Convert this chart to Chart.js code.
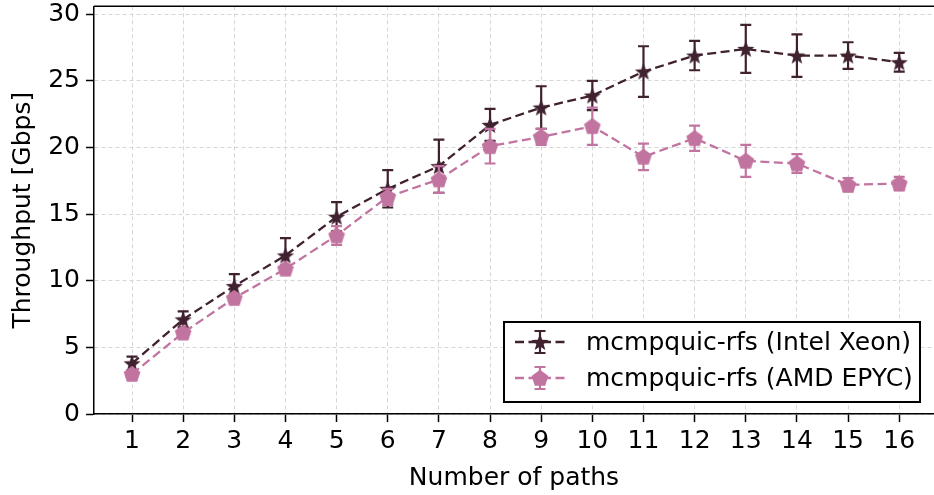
<!DOCTYPE html>
<html>
<head>
<meta charset="utf-8">
<script src="https://cdn.jsdelivr.net/npm/chart.js@4.4.0/dist/chart.umd.min.js"></script>
<style>
  html, body { margin: 0; padding: 0; background: #fff; }
</style>
</head>
<body>
<canvas id="myChart" width="934" height="495"></canvas>
<script>
// data
const paths = [1, 2, 3, 4, 5, 6, 7, 8, 9, 10, 11, 12, 13, 14, 15, 16];
const intelTput = [3.8, 7.1, 9.6, 11.9, 14.8, 16.9, 18.6, 21.7, 23.0, 23.9, 25.7, 26.9, 27.4, 26.9, 26.9, 26.4];
const intelErr  = [0.5, 0.6, 0.9, 1.3, 1.1, 1.4, 2.0, 1.2, 1.6, 1.1, 1.9, 1.1, 1.8, 1.6, 1.0, 0.7];
const amdTput   = [3.0, 6.1, 8.7, 10.9, 13.4, 16.3, 17.6, 20.1, 20.8, 21.6, 19.3, 20.7, 19.0, 18.8, 17.2, 17.3];
const amdErr    = [0.2, 0.3, 0.3, 0.3, 0.7, 0.6, 1.0, 1.3, 0.6, 1.4, 1.0, 0.95, 1.2, 0.7, 0.5, 0.5];
const yTicks = [0, 5, 10, 15, 20, 25, 30];
const seriesNames = ['mcmpquic-rfs (Intel Xeon)', 'mcmpquic-rfs (AMD EPYC)'];

const intelColor = '#40212f';
const amdColor = '#c274a0';
const FONT = "'DejaVu Sans', sans-serif";
const FSIZE = 25;

// filled star / pentagon markers like matplotlib '*' and 'p'
function polyPath(ctx, cx, cy, n, rOut, rIn) {
  ctx.beginPath();
  const step = Math.PI / n;
  let first = true;
  for (let i = 0; i < 2 * n; i++) {
    if (rIn == null && i % 2 === 1) continue;
    const r = (i % 2 === 0) ? rOut : rIn;
    const a = -Math.PI / 2 + i * step;
    const px = cx + r * Math.cos(a), py = cy + r * Math.sin(a);
    if (first) { ctx.moveTo(px, py); first = false; } else ctx.lineTo(px, py);
  }
  ctx.closePath();
}
function makeMarker(color, kind) {
  const c = document.createElement('canvas');
  c.width = 22; c.height = 22;
  const g = c.getContext('2d');
  g.fillStyle = color;
  if (kind === 'star') polyPath(g, 11, 11.8, 5, 9, 3.8);
  else polyPath(g, 11, 11.6, 5, 8.8, null);
  g.fill();
  return c;
}
const starImg = makeMarker(intelColor, 'star');
const pentImg = makeMarker(amdColor, 'pent');

function toXY(vals) {
  return vals.map((v, i) => ({ x: paths[i], y: v }));
}

function drawErr(ctx, x, yTop, yBot, color) {
  ctx.save();
  ctx.strokeStyle = color;
  ctx.lineWidth = 2.2;
  ctx.setLineDash([]);
  ctx.beginPath();
  ctx.moveTo(x, yTop); ctx.lineTo(x, yBot);
  ctx.moveTo(x - 5.5, yTop); ctx.lineTo(x + 5.5, yTop);
  ctx.moveTo(x - 5.5, yBot); ctx.lineTo(x + 5.5, yBot);
  ctx.stroke();
  ctx.restore();
}

// stretch the plot area to the right edge, like the cropped original figure
const stretchRight = {
  id: 'stretchRight',
  afterLayout(chart) {
    const xs = chart.scales.x;
    xs.right = chart.width;
    xs.width = xs.right - xs.left;
    xs.configure();
    chart.chartArea.right = chart.width;
    chart.chartArea.width = chart.chartArea.right - chart.chartArea.left;
  }
};

const errorBars = {
  id: 'errorBars',
  beforeDatasetDraw(chart, args) {
    const ds = chart.data.datasets[args.index];
    const xs = chart.scales.x, ys = chart.scales.y;
    const ctx = chart.ctx;
    ds.errors.forEach((e, i) => {
      const v = ds.data[i].y;
      drawErr(ctx, xs.getPixelForValue(paths[i]), ys.getPixelForValue(v + e), ys.getPixelForValue(v - e), ds.borderColor);
    });
  }
};

const frameAndLegend = {
  id: 'frameAndLegend',
  afterDraw(chart) {
    const ctx = chart.ctx;
    const a = chart.chartArea;
    ctx.save();
    // top spine
    ctx.strokeStyle = '#000';
    ctx.lineWidth = 1.5;
    ctx.beginPath();
    ctx.moveTo(a.left, a.top); ctx.lineTo(a.right, a.top);
    ctx.stroke();

    // legend box
    const bx = 504, by = 322, bw = 416, bh = 80;
    ctx.fillStyle = '#fff';
    ctx.fillRect(bx, by, bw, bh);
    ctx.lineWidth = 2;
    ctx.strokeStyle = '#000';
    ctx.strokeRect(bx, by, bw, bh);

    const rows = [
      { y: 342, color: intelColor, img: starImg, label: seriesNames[0] },
      { y: 378, color: amdColor, img: pentImg, label: seriesNames[1] }
    ];
    rows.forEach(r => {
      ctx.strokeStyle = r.color;
      ctx.lineWidth = 2.3;
      ctx.setLineDash([9, 4.5]);
      ctx.beginPath();
      ctx.moveTo(515, r.y); ctx.lineTo(565, r.y);
      ctx.stroke();
      ctx.setLineDash([]);
      drawErr(ctx, 540, r.y - 11, r.y + 11, r.color);
      ctx.drawImage(r.img, 540 - 11, r.y - 11);
      ctx.fillStyle = '#000';
      ctx.font = FSIZE + 'px ' + FONT;
      ctx.textBaseline = 'middle';
      ctx.textAlign = 'left';
      ctx.fillText(r.label, 586, r.y + 1);
    });
    ctx.restore();
  }
};

const ctx = document.getElementById('myChart').getContext('2d');
const myChart = new Chart(ctx, {
  type: 'line',
  data: {
    datasets: [
      {
        label: seriesNames[0],
        data: toXY(intelTput),
        errors: intelErr,
        borderColor: intelColor,
        backgroundColor: intelColor,
        borderWidth: 2.3,
        borderDash: [9, 4.5],
        pointStyle: starImg,
        order: 1
      },
      {
        label: seriesNames[1],
        data: toXY(amdTput),
        errors: amdErr,
        borderColor: amdColor,
        backgroundColor: amdColor,
        borderWidth: 2.3,
        borderDash: [9, 4.5],
        pointStyle: pentImg,
        order: 0
      }
    ]
  },
  options: {
    responsive: false,
    animation: false,
    layout: { padding: { top: 4, right: 0, left: 0, bottom: 0 } },
    plugins: {
      legend: { display: false },
      tooltip: { enabled: false }
    },
    scales: {
      x: {
        type: 'linear',
        min: 0.257,
        max: 16.68,
        afterBuildTicks: (s) => { s.ticks = paths.map(v => ({ value: v })); },
        afterFit: (s) => { s.height = 81; s.paddingLeft = 0; s.paddingRight = 0; },
        grid: { color: '#d6d6d6', lineWidth: 1, tickColor: '#000', tickLength: 8, tickWidth: 1.5 },
        border: { color: '#000', width: 1.5, dash: [4, 3] },
        ticks: { color: '#000', font: { family: FONT, size: FSIZE }, padding: 4, maxRotation: 0 },
        title: { display: true, text: 'Number of paths', color: '#000', font: { family: FONT, size: FSIZE }, padding: { top: 4, bottom: 2 } }
      },
      y: {
        min: 0,
        max: 30.6,
        afterBuildTicks: (s) => { s.ticks = yTicks.map(v => ({ value: v })); },
        afterFit: (s) => { s.width = 94; s.paddingTop = 0; s.paddingBottom = 0; },
        grid: { color: '#d6d6d6', lineWidth: 1, tickColor: '#000', tickLength: 8, tickWidth: 1.5 },
        border: { color: '#000', width: 1.5, dash: [4, 3] },
        ticks: { color: '#000', font: { family: FONT, size: FSIZE }, padding: 6 },
        title: { display: true, text: 'Throughput [Gbps]', color: '#000', font: { family: FONT, size: FSIZE }, padding: { top: 8, bottom: 4 } }
      }
    }
  },
  plugins: [stretchRight, errorBars, frameAndLegend]
});
</script>
</body>
</html>
